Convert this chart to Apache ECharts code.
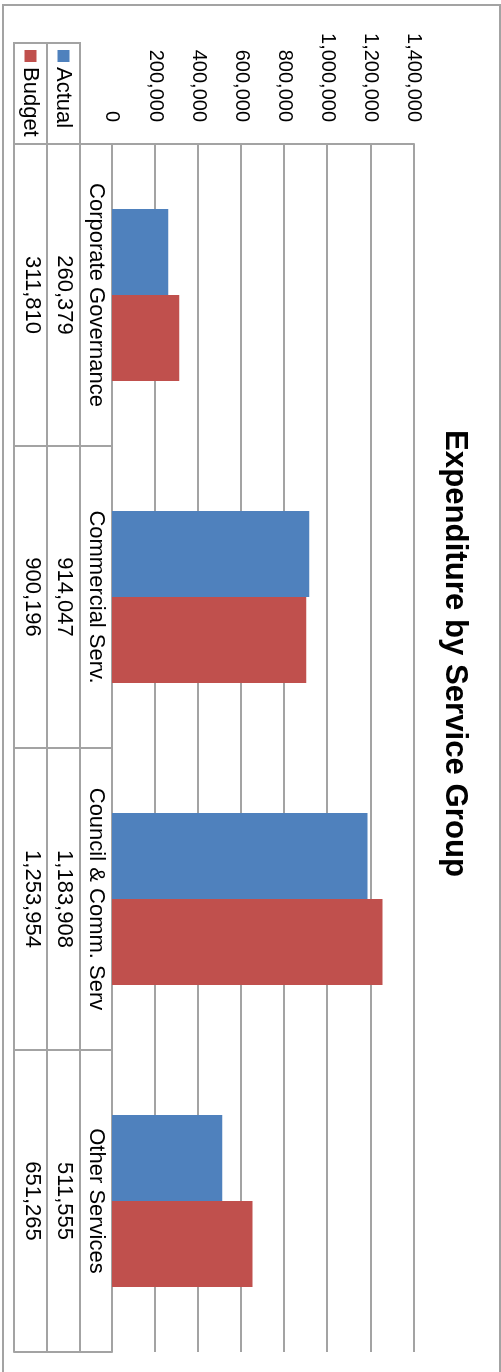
<!DOCTYPE html>
<html>
<head>
<meta charset="utf-8">
<script src="https://cdn.jsdelivr.net/npm/echarts@6/dist/echarts.min.js"></script>
<style>
html, body { margin: 0; padding: 0; background: #fff; overflow: hidden; width: 501px; height: 1372px; }
#chart { position: absolute; left: 0; top: 0; width: 1372px; height: 501px;
  transform-origin: 0 0; transform: translate(501px, 0) rotate(90deg); }
</style>
</head>
<body>
<div id="chart"></div>
<script>
const categories = ['Corporate Governance', 'Commercial Serv.', 'Council & Comm. Serv', 'Other Services'];
const actual = [260379, 914047, 1183908, 511555];
const budget = [311810, 900196, 1253954, 651265];
const seriesNames = ['Actual', 'Budget'];
const valueTicks = [0, 200000, 400000, 600000, 800000, 1000000, 1200000, 1400000];
const titleText = 'Expenditure by Service Group';

const fmt = v => String(v).replace(/\B(?=(\d{3})+(?!\d))/g, ',');
const GRAY = '#a3a3a3';
const FONT = '"Liberation Sans", Arial, sans-serif';

const chart = echarts.init(document.getElementById('chart'), null, { renderer: 'canvas' });

function tableAxis(offset, tickLen, labelFn, margin) {
  return {
    type: 'category', data: categories, position: 'bottom', offset: offset,
    boundaryGap: true,
    axisLine: { show: true, lineStyle: { color: GRAY, width: 2 } },
    axisTick: { show: tickLen > 0, interval: 0, length: tickLen, lineStyle: { color: GRAY, width: 2 } },
    axisLabel: labelFn ? { show: true, interval: 0, formatter: labelFn, margin: margin,
      verticalAlign: 'middle', color: '#000', fontSize: 22, fontFamily: FONT } : { show: false },
    splitLine: { show: false }
  };
}

const option = {
  animation: false,
  backgroundColor: '#fff',
  title: {
    text: titleText, left: 425, top: 26,
    textStyle: { fontSize: 31.2, fontWeight: 'bold', color: '#000', fontFamily: FONT }
  },
  legend: {
    orient: 'vertical', left: 50, top: 421, itemGap: 0, padding: 0,
    itemWidth: 12, itemHeight: 12, icon: 'rect',
    data: seriesNames,
    textStyle: { fontSize: 22, lineHeight: 33, color: '#000', fontFamily: FONT }
  },
  grid: { left: 144, right: 20, top: 87, bottom: 112, containLabel: false },
  xAxis: [
    tableAxis(0, 32, (v) => v, 16),
    tableAxis(32, 33, (v, i) => fmt(actual[i]), 16),
    tableAxis(65, 33, (v, i) => fmt(budget[i]), 15),
    tableAxis(98, 0, null, 0)
  ],
  yAxis: {
    type: 'value', min: valueTicks[0], max: valueTicks[valueTicks.length - 1],
    interval: valueTicks[1] - valueTicks[0],
    axisLine: { show: true, lineStyle: { color: GRAY, width: 2 } },
    axisTick: { show: false },
    splitLine: { show: true, lineStyle: { color: GRAY, width: 2 } },
    axisLabel: { margin: 22, color: '#000', fontSize: 20, fontFamily: FONT, formatter: v => fmt(v) }
  },
  series: [
    { name: seriesNames[0], type: 'bar', data: actual, barWidth: 86, barGap: '0%',
      itemStyle: { color: '#4F81BD' } },
    { name: seriesNames[1], type: 'bar', data: budget, barWidth: 86, barGap: '0%',
      itemStyle: { color: '#C0504D' } }
  ],
  graphic: [
    { type: 'polyline', silent: true, shape: { points: [[144, 421], [43, 421], [43, 487], [144, 487]] },
      style: { stroke: GRAY, lineWidth: 2, fill: null } },
    { type: 'line', silent: true, shape: { x1: 43, y1: 454, x2: 144, y2: 454 },
      style: { stroke: GRAY, lineWidth: 2 } },
    { type: 'rect', silent: true, shape: { x: 5, y: 1, width: 1400, height: 497 },
      style: { stroke: GRAY, lineWidth: 2, fill: null } }
  ]
};
chart.setOption(option);
</script>
</body>
</html>
